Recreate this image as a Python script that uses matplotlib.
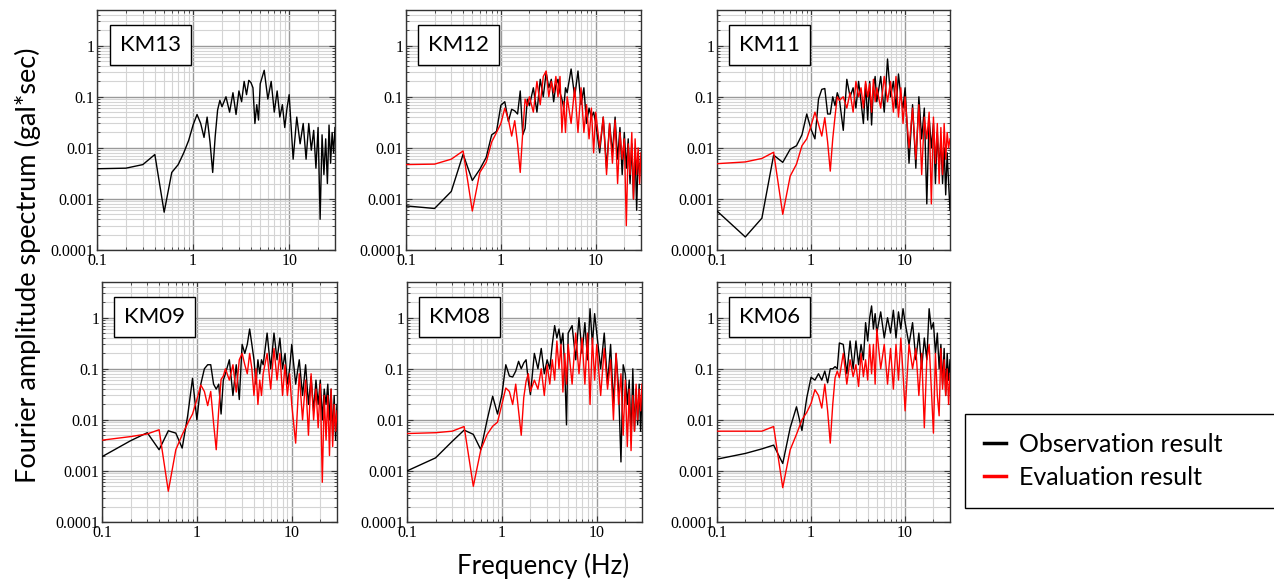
import matplotlib.pyplot as plt
from matplotlib.lines import Line2D
from matplotlib.ticker import LogLocator, FixedLocator, NullFormatter, FuncFormatter

# frequency sampling (Hz)
freq = [0.1, 0.2, 0.3, 0.4, 0.5, 0.6, 0.7, 0.8, 0.9, 1.0,
        1.1, 1.2, 1.3, 1.4, 1.5, 1.6, 1.7, 1.8, 1.9, 2.0,
        2.2, 2.4, 2.6, 2.8, 3.0, 3.2, 3.4, 3.6, 3.8, 4.0, 4.2, 4.4, 4.6, 4.8, 5.0,
        5.5, 6.0, 6.5, 7.0, 7.5, 8.0, 8.5, 9.0, 9.5, 10.0,
        11, 12, 13, 14, 15, 16, 17, 18, 19, 20,
        21, 22, 23, 24, 25, 26, 27, 28, 29, 30]

stations = ["KM13", "KM12", "KM11", "KM09", "KM08", "KM06"]

# observation result (gal*sec)
obs_km13 = [0.0039, 0.004, 0.0047, 0.0074, 0.00055, 0.0033, 0.0047, 0.008, 0.014, 0.028,
            0.045, 0.03, 0.016, 0.04, 0.013, 0.0033, 0.017, 0.055, 0.085, 0.064,
            0.1, 0.05, 0.12, 0.045, 0.13, 0.08, 0.2, 0.11, 0.21, 0.19, 0.15, 0.03, 0.07, 0.035, 0.18,
            0.33, 0.09, 0.2, 0.05, 0.13, 0.04, 0.07, 0.025, 0.06, 0.11,
            0.006, 0.04, 0.012, 0.03, 0.006, 0.03, 0.009, 0.022, 0.004, 0.025,
            0.0004, 0.018, 0.003, 0.015, 0.002, 0.028, 0.005, 0.02, 0.008, 0.025]
obs_km12 = [0.00073, 0.00065, 0.0014, 0.0075, 0.0023, 0.0038, 0.0065, 0.018, 0.021, 0.068,
            0.08, 0.033, 0.057, 0.053, 0.046, 0.13, 0.018, 0.024, 0.09, 0.067,
            0.15, 0.05, 0.22, 0.1, 0.3, 0.15, 0.22, 0.08, 0.17, 0.22, 0.12, 0.09, 0.06, 0.15, 0.12,
            0.35, 0.1, 0.32, 0.07, 0.15, 0.03, 0.06, 0.04, 0.05, 0.03,
            0.008, 0.04, 0.004, 0.03, 0.008, 0.04, 0.006, 0.025, 0.003, 0.02,
            0.004, 0.015, 0.002, 0.012, 0.001, 0.01, 0.0006, 0.008, 0.003, 0.006]
obs_km11 = [0.00058, 0.00018, 0.00042, 0.0072, 0.0052, 0.0094, 0.011, 0.018, 0.046, 0.023,
            0.015, 0.09, 0.14, 0.145, 0.046, 0.046, 0.1, 0.067, 0.12, 0.09,
            0.022, 0.22, 0.1, 0.15, 0.06, 0.2, 0.08, 0.03, 0.18, 0.035, 0.2, 0.028, 0.15, 0.25, 0.08,
            0.25, 0.05, 0.55, 0.1, 0.2, 0.06, 0.28, 0.1, 0.06, 0.15,
            0.005, 0.07, 0.004, 0.1, 0.015, 0.06, 0.0008, 0.04, 0.01, 0.03,
            0.002, 0.02, 0.004, 0.015, 0.002, 0.01, 0.0012, 0.008, 0.002, 0.0006]
obs_km09 = [0.0019, 0.0039, 0.0056, 0.0026, 0.0061, 0.0055, 0.0028, 0.012, 0.065, 0.01,
            0.05, 0.1, 0.12, 0.12, 0.05, 0.04, 0.05, 0.013, 0.06, 0.08,
            0.15, 0.03, 0.12, 0.025, 0.3, 0.2, 0.3, 0.6, 0.3, 0.15, 0.05, 0.15, 0.08, 0.15, 0.12,
            0.5, 0.1, 0.5, 0.15, 0.4, 0.1, 0.2, 0.05, 0.1, 0.3,
            0.05, 0.15, 0.03, 0.12, 0.02, 0.07, 0.015, 0.06, 0.02, 0.06,
            0.01, 0.04, 0.02, 0.05, 0.01, 0.04, 0.005, 0.03, 0.004, 0.02]
obs_km08 = [0.001, 0.0018, 0.0038, 0.0063, 0.0052, 0.0026, 0.01, 0.029, 0.013, 0.031,
            0.12, 0.072, 0.069, 0.09, 0.14, 0.1, 0.13, 0.15, 0.057, 0.031,
            0.2, 0.1, 0.25, 0.08, 0.15, 0.1, 0.3, 0.7, 0.4, 0.6, 0.3, 0.5, 0.1, 0.008, 0.5,
            0.7, 0.15, 1.0, 0.2, 0.8, 0.15, 1.5, 0.3, 1.2, 0.5,
            0.1, 0.5, 0.05, 0.3, 0.02, 0.2, 0.04, 0.0015, 0.12, 0.08,
            0.02, 0.06, 0.004, 0.1, 0.006, 0.04, 0.008, 0.05, 0.006, 0.03]
obs_km06 = [0.0017, 0.0022, 0.0027, 0.0032, 0.0014, 0.007, 0.018, 0.0062, 0.027, 0.068,
            0.06, 0.08, 0.06, 0.09, 0.053, 0.1, 0.1, 0.11, 0.1, 0.32,
            0.3, 0.08, 0.35, 0.1, 0.35, 0.12, 0.3, 0.15, 0.8, 0.35, 1.0, 1.7, 0.6, 1.2, 0.5,
            1.3, 0.4, 1.0, 0.5, 1.4, 0.4, 1.3, 0.6, 1.5, 0.8,
            0.3, 0.8, 0.15, 0.5, 0.1, 0.4, 0.15, 1.5, 0.6, 0.8,
            0.2, 0.5, 0.1, 0.3, 0.05, 0.25, 0.03, 0.2, 0.06, 0.15]

# evaluation result (gal*sec); KM13 has none
eval_km12 = [0.0047, 0.0048, 0.006, 0.0087, 0.00058, 0.0033, 0.0052, 0.013, 0.02, 0.03,
             0.06, 0.036, 0.017, 0.034, 0.012, 0.0033, 0.02, 0.09, 0.066, 0.1,
             0.05, 0.2, 0.07, 0.25, 0.32, 0.1, 0.2, 0.12, 0.25, 0.1, 0.25, 0.02, 0.08, 0.02, 0.1,
             0.03, 0.15, 0.02, 0.15, 0.02, 0.07, 0.015, 0.06, 0.008, 0.05,
             0.01, 0.04, 0.003, 0.03, 0.005, 0.035, 0.002, 0.02, 0.006, 0.015,
             0.0003, 0.012, 0.003, 0.02, 0.001, 0.015, 0.003, 0.01, 0.002, 0.008]
eval_km11 = [0.0049, 0.0053, 0.0062, 0.0082, 0.0005, 0.0028, 0.0048, 0.011, 0.015, 0.027,
             0.05, 0.029, 0.017, 0.039, 0.013, 0.0035, 0.015, 0.042, 0.1, 0.085,
             0.1, 0.06, 0.12, 0.05, 0.2, 0.1, 0.15, 0.06, 0.2, 0.1, 0.18, 0.05, 0.22, 0.08, 0.15,
             0.06, 0.25, 0.08, 0.2, 0.05, 0.25, 0.04, 0.15, 0.03, 0.1,
             0.01, 0.06, 0.006, 0.07, 0.003, 0.04, 0.015, 0.05, 0.0008, 0.04,
             0.005, 0.03, 0.002, 0.025, 0.003, 0.03, 0.006, 0.02, 0.01, 0.015]
eval_km09 = [0.004, 0.0047, 0.0053, 0.0064, 0.0004, 0.0026, 0.0051, 0.0086, 0.013, 0.025,
             0.048, 0.036, 0.019, 0.036, 0.0086, 0.0026, 0.016, 0.062, 0.072, 0.1,
             0.06, 0.12, 0.035, 0.15, 0.2, 0.12, 0.08, 0.2, 0.1, 0.03, 0.1, 0.02, 0.06, 0.03, 0.08,
             0.2, 0.04, 0.25, 0.06, 0.2, 0.03, 0.12, 0.03, 0.08, 0.02,
             0.0035, 0.08, 0.01, 0.06, 0.005, 0.08, 0.01, 0.04, 0.007, 0.05,
             0.0006, 0.03, 0.004, 0.03, 0.002, 0.04, 0.003, 0.02, 0.006, 0.015]
eval_km08 = [0.0054, 0.0056, 0.006, 0.0074, 0.0005, 0.0026, 0.0052, 0.0075, 0.009, 0.02,
             0.042, 0.036, 0.02, 0.05, 0.015, 0.005, 0.027, 0.057, 0.08, 0.036,
             0.06, 0.04, 0.1, 0.03, 0.12, 0.05, 0.15, 0.06, 0.35, 0.1, 0.3, 0.035, 0.2, 0.05, 0.3,
             0.05, 0.5, 0.08, 0.4, 0.05, 0.5, 0.02, 0.4, 0.06, 0.3,
             0.03, 0.25, 0.04, 0.15, 0.01, 0.2, 0.02, 0.08, 0.005, 0.06,
             0.003, 0.04, 0.0025, 0.03, 0.006, 0.05, 0.01, 0.04, 0.015, 0.05]
eval_km06 = [0.006, 0.006, 0.006, 0.0074, 0.00047, 0.0026, 0.0052, 0.01, 0.014, 0.021,
             0.039, 0.03, 0.017, 0.05, 0.015, 0.0035, 0.02, 0.067, 0.09, 0.067,
             0.2, 0.05, 0.15, 0.07, 0.12, 0.045, 0.2, 0.07, 0.15, 0.06, 0.3, 0.08, 0.3, 0.05, 0.6,
             0.1, 0.3, 0.05, 0.25, 0.04, 0.3, 0.06, 0.4, 0.08, 0.015,
             0.3, 0.1, 0.25, 0.03, 0.2, 0.007, 0.15, 0.3, 0.04, 0.0055,
             0.2, 0.03, 0.012, 0.25, 0.04, 0.15, 0.03, 0.1, 0.02, 0.08]

obs_all = [obs_km13, obs_km12, obs_km11, obs_km09, obs_km08, obs_km06]
eval_all = [None, eval_km12, eval_km11, eval_km09, eval_km08, eval_km06]

W, H = 1274, 579
fig = plt.figure(figsize=(W / 100, H / 100), dpi=100)

# axes boxes in pixels: left, top, right, bottom
boxes = [(97, 10, 335, 250), (406, 10, 641, 250), (717, 10, 950, 250),
         (102, 282, 337, 522), (407, 282, 642, 522), (717, 282, 950, 522)]

label_font = "Lato"
tick_font = "Liberation Serif"
fmt = FuncFormatter(lambda v, p: "%g" % v)

for i, (l, t, r, b) in enumerate(boxes):
    ax = fig.add_axes([l / W, 1 - b / H, (r - l) / W, (b - t) / H])
    ax.plot(freq, obs_all[i], color="black", lw=1.0, zorder=3)
    if eval_all[i] is not None:
        ax.plot(freq, eval_all[i], color="red", lw=1.0, zorder=4)
    ax.set_xscale("log")
    ax.set_yscale("log")
    ax.set_xlim(0.1, 30)
    ax.set_ylim(1e-4, 5)
    ax.xaxis.set_major_locator(FixedLocator([0.1, 1, 10]))
    ax.yaxis.set_major_locator(FixedLocator([1e-4, 1e-3, 1e-2, 1e-1, 1]))
    ax.xaxis.set_minor_locator(LogLocator(base=10, subs=range(2, 10), numticks=20))
    ax.yaxis.set_minor_locator(LogLocator(base=10, subs=range(2, 10), numticks=20))
    ax.xaxis.set_major_formatter(fmt)
    ax.yaxis.set_major_formatter(fmt)
    ax.xaxis.set_minor_formatter(NullFormatter())
    ax.yaxis.set_minor_formatter(NullFormatter())
    ax.grid(which="major", color="#9a9a9a", lw=1.0, zorder=1)
    ax.grid(which="minor", color="#d4d4d4", lw=0.8, zorder=0)
    ax.set_axisbelow(True)
    ax.tick_params(which="both", direction="in", top=True, right=True,
                   color="#333333", pad=2)
    ax.tick_params(which="major", length=4)
    ax.tick_params(which="minor", length=2.5)
    for lab in ax.get_xticklabels() + ax.get_yticklabels():
        lab.set_fontfamily(tick_font)
        lab.set_fontsize(11.5)
    for s in ax.spines.values():
        s.set_color("#333333")
        s.set_linewidth(1.0)
    ax.text(0.225, 0.855, stations[i], transform=ax.transAxes, ha="center", va="center",
            fontsize=16, family=label_font, zorder=6,
            bbox=dict(boxstyle="square,pad=0.45", fc="white", ec="black", lw=1.0))

fig.text(0.022, 0.542, "Fourier amplitude spectrum (gal*sec)", rotation=90,
         ha="center", va="center", fontsize=19.5, family=label_font)
fig.text(543 / W, 0.022, "Frequency (Hz)", ha="center", va="center",
         fontsize=18.5, family=label_font)

handles = [Line2D([], [], color="black", lw=2.5), Line2D([], [], color="red", lw=2.5)]
leg = fig.legend(handles, ["Observation result", "Evaluation result"],
                 loc="upper left", bbox_to_anchor=(965 / W, 0, 1 - 965 / W + 0.01, 1 - 414 / H),
                 mode="expand", fancybox=False, framealpha=1, edgecolor="black",
                 prop={"family": label_font, "size": 18}, handlelength=0.9,
                 handletextpad=0.5, borderpad=0.75, labelspacing=0.4,
                 borderaxespad=0)
leg.get_frame().set_linewidth(1.0)

fig.savefig("out.png", dpi=100)
